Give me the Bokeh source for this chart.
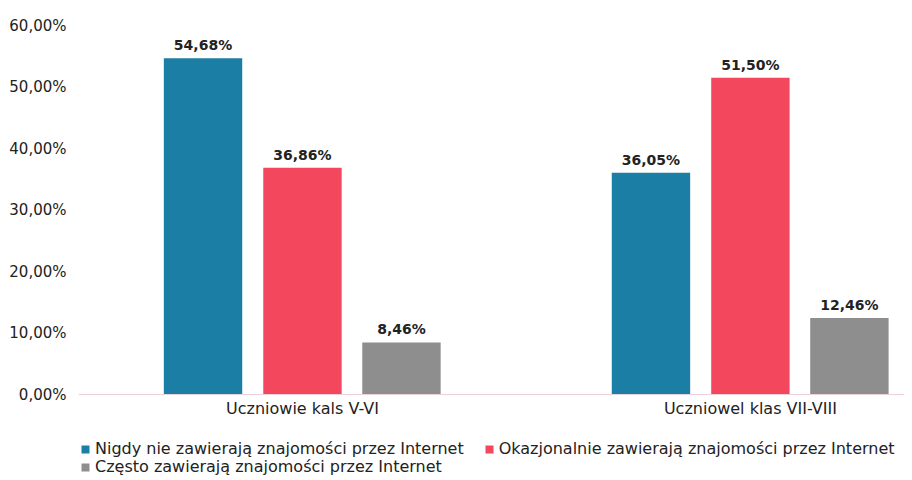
from bokeh.plotting import figure
from bokeh.models import ColumnDataSource, FixedTicker, Range1d, Legend, LegendItem, Span
from bokeh.core.properties import value
from bokeh.embed import file_html
from bokeh.resources import INLINE

categories = ["Uczniowie kals V-VI", "Uczniowel klas VII-VIII"]
series_names = [
    "Nigdy nie zawierają znajomości przez Internet",
    "Okazjonalnie zawierają znajomości przez Internet",
    "Często zawierają znajomości przez Internet",
]
nigdy = [54.68, 36.05]
okazjonalnie = [36.86, 51.50]
czesto = [8.46, 12.46]
y_ticks = [0, 10, 20, 30, 40, 50, 60]
y_tick_labels = ["0,00%", "10,00%", "20,00%", "30,00%", "40,00%", "50,00%", "60,00%"]

series_values = [nigdy, okazjonalnie, czesto]
colors = ["#1b7ea4", "#f2475d", "#8e8e8e"]
offsets = [-0.222, 0.0, 0.221]
FONT = "DejaVu Sans"
TXT = "#222222"

# frame extends to the bottom so the legend (inside the frame) is not clipped;
# value 0 sits at the former axis position
p = figure(frame_width=826, frame_height=455, x_range=Range1d(-0.5, 1.344),
           y_range=Range1d(-13.98, y_ticks[-1]), x_axis_location=None,
           output_backend="svg", toolbar_location=None,
           min_border_left=78, min_border_right=8, min_border_top=25, min_border_bottom=0)
p.outline_line_color = None
p.xgrid.grid_line_color = None
p.ygrid.grid_line_color = None
p.background_fill_color = "white"

p.add_layout(Span(location=y_ticks[0], dimension="width", line_color="#ecd0dc", line_width=1))

renderers = []
for vals, col, off in zip(series_values, colors, offsets):
    src = ColumnDataSource(dict(
        x=[i + off for i in range(len(categories))],
        top=vals,
        label=[f"{v:.2f}%".replace(".", ",") for v in vals],
    ))
    r = p.vbar(x="x", top="top", bottom=y_ticks[0], width=0.175, source=src,
               fill_color=col, line_color=None)
    renderers.append(r)
    p.text(x="x", y="top", text="label", source=src, text_align="center", text_baseline="bottom",
           y_offset=-5, text_font=value(FONT), text_font_style="bold", text_font_size="14px",
           text_color=TXT)

# category labels under the baseline
cat_src = ColumnDataSource(dict(x=list(range(len(categories))),
                                y=[y_ticks[0]] * len(categories), t=categories))
p.text(x="x", y="y", text="t", source=cat_src, text_align="center", text_baseline="top",
       y_offset=4, text_font=value(FONT), text_font_size="16px", text_color=TXT)

ya = p.yaxis[0]
ya.ticker = FixedTicker(ticks=y_ticks)
ya.major_label_overrides = {t: l for t, l in zip(y_ticks, y_tick_labels)}
ya.axis_line_color = None
ya.major_tick_line_color = None
ya.minor_tick_line_color = None
ya.major_label_standoff = 6
ya.major_label_text_font = FONT
ya.major_label_text_font_size = "15px"
ya.major_label_text_color = TXT


def make_legend(idx, loc):
    lg = Legend(items=[LegendItem(label=series_names[i], renderers=[renderers[i]]) for i in idx],
                orientation="horizontal", location=loc)
    lg.label_text_font = FONT
    lg.label_text_font_size = "16px"
    lg.label_text_color = TXT
    lg.glyph_width = 10
    lg.glyph_height = 10
    lg.spacing = 20
    lg.label_standoff = 5
    lg.padding = 0
    lg.margin = 0
    lg.label_height = 18
    lg.border_line_color = None
    lg.background_fill_alpha = 0
    return lg


p.add_layout(make_legend([0, 1], (2, 22)))
p.add_layout(make_legend([2], (2, 4)))

open("out.html", "w").write(file_html(p, INLINE))
